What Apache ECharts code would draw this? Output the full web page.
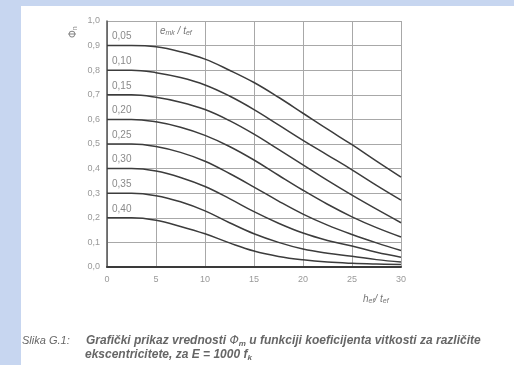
<!DOCTYPE html>
<html>
<head>
<meta charset="utf-8">
<script src="https://cdn.jsdelivr.net/npm/echarts@6/dist/echarts.min.js"></script>
<style>
  html, body { margin: 0; padding: 0; width: 514px; height: 365px; background: #c7d6f0; overflow: hidden; }
  #card { position: absolute; left: 21px; top: 6px; right: 0; bottom: 0; background: #ffffff; }
  #chart { position: absolute; left: 0; top: 0; width: 514px; height: 365px; }
</style>
</head>
<body>
<div id="card"></div>
<div id="chart"></div>
<script>
// slenderness h_ef / t_ef
var slenderness = [0, 2.5, 5, 7.5, 10, 12.5, 15, 17.5, 20, 22.5, 25, 27.5, 30];
// eccentricity e_mk / t_ef for each curve
var eccLabels = ["0,05", "0,10", "0,15", "0,20", "0,25", "0,30", "0,35", "0,40"];
// phi_m values
var phi005 = [0.90, 0.90, 0.895, 0.875, 0.845, 0.80, 0.75, 0.69, 0.625, 0.56, 0.497, 0.43, 0.365];
var phi010 = [0.80, 0.80, 0.79, 0.77, 0.74, 0.695, 0.64, 0.578, 0.515, 0.455, 0.395, 0.332, 0.272];
var phi015 = [0.70, 0.70, 0.69, 0.67, 0.64, 0.595, 0.54, 0.478, 0.415, 0.352, 0.292, 0.235, 0.18];
var phi020 = [0.60, 0.60, 0.59, 0.568, 0.535, 0.49, 0.435, 0.373, 0.312, 0.255, 0.204, 0.16, 0.122];
var phi025 = [0.50, 0.50, 0.49, 0.466, 0.43, 0.38, 0.325, 0.268, 0.215, 0.17, 0.132, 0.098, 0.067];
var phi030 = [0.40, 0.40, 0.39, 0.364, 0.327, 0.278, 0.225, 0.178, 0.138, 0.108, 0.085, 0.06, 0.04];
var phi035 = [0.30, 0.30, 0.29, 0.265, 0.228, 0.18, 0.135, 0.10, 0.073, 0.056, 0.044, 0.03, 0.02];
var phi040 = [0.20, 0.20, 0.19, 0.165, 0.135, 0.098, 0.065, 0.043, 0.029, 0.02, 0.015, 0.012, 0.01];
var allPhi = [phi005, phi010, phi015, phi020, phi025, phi030, phi035, phi040];
// tick labels
var xTicks = ["0", "5", "10", "15", "20", "25", "30"];
var yTicks = ["0,0", "0,1", "0,2", "0,3", "0,4", "0,5", "0,6", "0,7", "0,8", "0,9", "1,0"];

var series = allPhi.map(function (vals, k) {
  return {
    type: "line",
    smooth: 0.4,
    symbol: "circle",
    symbolSize: 0,
    showSymbol: true,
    lineStyle: { color: "#3c3c3c", width: 1.5 },
    data: vals.map(function (v, i) {
      var pt = { value: [slenderness[i], v] };
      if (i === 0) {
        pt.label = {
          show: true, position: "right", distance: 5, offset: [0, -9],
          formatter: eccLabels[k], color: "#8a8a8a", fontSize: 10,
          fontFamily: "Liberation Sans"
        };
      }
      return pt;
    }),
    silent: true,
    animation: false
  };
});

var myChart = echarts.init(document.getElementById("chart"));
var option = {
  backgroundColor: "transparent",
  animation: false,
  grid: { left: 107, right: 113, top: 21, bottom: 98 },
  xAxis: {
    type: "value", min: 0, max: 30, interval: 5,
    axisLine: { lineStyle: { color: "#3a3a3a", width: 2 } },
    axisTick: { show: false },
    axisLabel: {
      color: "#999", fontSize: 9, fontFamily: "Liberation Sans", margin: 8,
      formatter: function (v) { return xTicks[v / 5]; }
    },
    splitLine: { show: true, lineStyle: { color: "#a8a8a8", width: 1 } }
  },
  yAxis: {
    type: "value", min: 0, max: 1, interval: 0.1,
    axisLine: { show: true, lineStyle: { color: "#555", width: 1.5 } },
    axisTick: { show: false },
    axisLabel: {
      color: "#999", fontSize: 9, fontFamily: "Liberation Sans", margin: 7,
      formatter: function (v) { return yTicks[Math.round(v * 10)]; }
    },
    splitLine: { show: true, lineStyle: { color: "#a8a8a8", width: 1 } }
  },
  series: series
};
myChart.setOption(option);

// annotation texts placed from axis coordinates
var pEcc = myChart.convertToPixel({ gridIndex: 0 }, [5.4, 0.96]);
var pAxisX = myChart.convertToPixel({ gridIndex: 0 }, [30, 0]);
var pTop = myChart.convertToPixel({ gridIndex: 0 }, [0, 1]);
myChart.setOption({
  graphic: [
    {
      type: "text", left: pEcc[0], top: pEcc[1] - 5,
      style: {
        text: "{i|e}{s|mk}{i| / t}{s|ef}",
        rich: {
          i: { fontSize: 10, fontStyle: "italic", fill: "#777", fontFamily: "Liberation Sans" },
          s: { fontSize: 7, fontStyle: "italic", fill: "#777", fontFamily: "Liberation Sans", padding: [5, 0, 0, 0] }
        }
      }
    },
    {
      type: "text", x: pTop[0] - 40, y: pTop[1] + 17, rotation: Math.PI / 2,
      style: {
        text: "{i|Φ}{s|n}",
        rich: {
          i: { fontSize: 10, fill: "#888", fontFamily: "DejaVu Sans" },
          s: { fontSize: 7, fill: "#888", fontFamily: "Liberation Sans", padding: [5, 0, 0, 0] }
        }
      }
    },
    {
      type: "text", left: pAxisX[0] - 38, top: pAxisX[1] + 27,
      style: {
        text: "{i|h}{s|ef}{i|/ t}{s|ef}",
        rich: {
          i: { fontSize: 10, fontStyle: "italic", fill: "#777", fontFamily: "Liberation Sans" },
          s: { fontSize: 7, fontStyle: "italic", fill: "#777", fontFamily: "Liberation Sans", padding: [5, 0, 0, 0] }
        }
      }
    },
    {
      type: "text", left: 22, top: 335,
      style: {
        text: "Slika G.1:",
        fontSize: 11, fontStyle: "italic", fill: "#666", fontFamily: "Liberation Sans"
      }
    },
    {
      type: "text", left: 86, top: 335,
      style: {
        text: "{b|Grafički prikaz vrednosti }{c|Φ}{s|m}{b| u funkciji koeficijenta vitkosti za različite}",
        rich: {
          b: { fontSize: 12, fontStyle: "italic", fontWeight: "bold", fill: "#666", fontFamily: "Liberation Sans" },
          c: { fontSize: 12, fontStyle: "italic", fill: "#666", fontFamily: "DejaVu Sans" },
          s: { fontSize: 8, fontStyle: "italic", fontWeight: "bold", fill: "#666", fontFamily: "Liberation Sans", padding: [5, 0, 0, 0] }
        }
      }
    },
    {
      type: "text", left: 85, top: 349,
      style: {
        text: "{b|ekscentricitete, za E = 1000 f}{s|k}",
        rich: {
          b: { fontSize: 12, fontStyle: "italic", fontWeight: "bold", fill: "#666", fontFamily: "Liberation Sans" },
          s: { fontSize: 8, fontStyle: "italic", fontWeight: "bold", fill: "#666", fontFamily: "Liberation Sans", padding: [5, 0, 0, 0] }
        }
      }
    }
  ]
});
</script>
</body>
</html>
